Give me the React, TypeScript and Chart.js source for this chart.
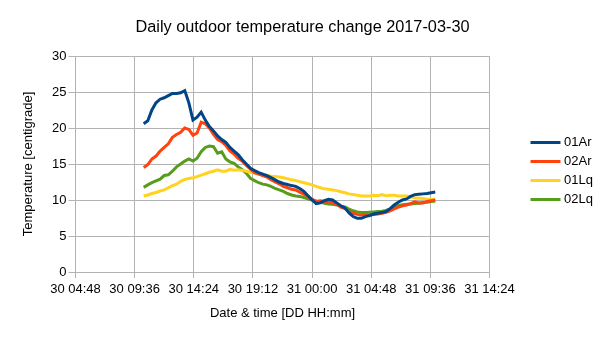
import React, { useEffect, useRef } from "react";
import { Chart, registerables } from "chart.js";

Chart.register(...registerables);

// Time axis (minutes since day 30, 00:00)
const axisMin = 288; // 30 04:48
const axisMax = 2304; // 31 14:24
const axisStep = 288; // 4h48m
const sampleStart = 620; // 30 10:20
const sampleStep = 20; // minutes between samples

const chartTitle = "Daily outdoor temperature change 2017-03-30";
const xTitle = "Date & time [DD HH:mm]";
const yTitle = "Temperature [centigrade]";

const seriesNames = ["01Ar", "02Ar", "01Lq", "02Lq"];
const seriesColors = ["#004586", "#ff420e", "#ffd320", "#579d1c"];

const ar01 = [
  20.6, 21.0, 22.5, 23.5, 24.0, 24.2, 24.5, 24.8, 24.8, 24.9, 25.2, 23.5, 21.1, 21.5, 22.2, 21.1,
  20.2, 19.6, 18.9, 18.4, 18.0, 17.3, 16.8, 16.3, 15.6, 15.0, 14.4, 14.1, 13.8, 13.6, 13.4, 13.1,
  12.8, 12.5, 12.3, 12.15, 12.0, 11.9, 11.6, 11.2, 10.6, 10.0, 9.5, 9.6, 9.9, 10.1, 10.0, 9.6,
  9.2, 8.9, 8.2, 7.7, 7.45, 7.45, 7.7, 7.85, 8.05, 8.15, 8.25, 8.4, 8.8, 9.3, 9.7, 10.0,
  10.15, 10.5, 10.75, 10.8, 10.85, 10.9, 11.0, 11.1,
];
const ar02 = [
  14.5, 14.9, 15.7, 16.1, 16.8, 17.3, 17.8, 18.7, 19.1, 19.4, 20.0, 19.8, 19.0, 19.3, 20.8, 20.6,
  20.0, 19.1, 18.4, 18.1, 17.6, 16.8, 16.4, 15.8, 15.4, 14.8, 14.3, 13.8, 13.6, 13.4, 13.2, 12.8,
  12.5, 12.25, 11.9, 11.7, 11.5, 11.4, 11.1, 10.8, 10.5, 10.1, 9.8, 9.9, 9.8, 9.8, 9.6, 9.4,
  9.0, 8.8, 8.4, 8.15, 8.0, 7.9, 7.9, 7.9, 8.0, 8.05, 8.15, 8.3, 8.5, 8.75, 9.0, 9.2,
  9.3, 9.5, 9.75, 9.6, 9.6, 9.8, 9.9, 10.0,
];
const lq01 = [
  10.55, 10.7, 10.9, 11.05, 11.25, 11.4, 11.7, 12.0, 12.2, 12.6, 12.85, 13.0, 13.1, 13.25, 13.45, 13.65,
  13.85, 14.0, 14.2, 14.0, 14.0, 14.25, 14.15, 14.2, 14.1, 14.0, 13.85, 13.75, 13.6, 13.55, 13.45, 13.3,
  13.25, 13.2, 13.1, 12.95, 12.8, 12.7, 12.55, 12.4, 12.25, 12.1, 11.9, 11.7, 11.55, 11.5, 11.4, 11.3,
  11.15, 11.0, 10.85, 10.75, 10.65, 10.55, 10.55, 10.55, 10.65, 10.6, 10.75, 10.6, 10.65, 10.65, 10.55, 10.55,
  10.55, 10.45, 10.3, 10.25, 10.2, 10.1, 10.1, 10.1,
];
const lq02 = [
  11.75, 12.1, 12.4, 12.65, 12.9, 13.4, 13.5, 14.0, 14.6, 15.0, 15.4, 15.7, 15.4, 15.8, 16.7, 17.3,
  17.5, 17.4, 16.5, 16.7, 15.7, 15.3, 15.1, 14.6, 14.2, 13.7, 13.0, 12.7, 12.4, 12.2, 12.1, 11.9,
  11.6, 11.4, 11.2, 10.9, 10.7, 10.55, 10.5, 10.35, 10.15, 10.0, 9.85, 9.7, 9.55, 9.45, 9.4, 9.3,
  9.15, 9.05, 8.75, 8.5, 8.35, 8.25, 8.25, 8.3, 8.35, 8.4, 8.45, 8.55, 8.75, 9.0, 9.2, 9.35,
  9.4, 9.45, 9.5, 9.55, 9.65, 9.7, 9.8, 9.85,
];

const seriesValues = [ar01, ar02, lq01, lq02];

const FONT = "'Liberation Sans', Arial, sans-serif";

function fmtTime(v: number): string {
  const day = 30 + Math.floor(v / 1440);
  const rem = v - Math.floor(v / 1440) * 1440;
  const hh = Math.floor(rem / 60);
  const mm = Math.round(rem - hh * 60);
  return `${day} ${String(hh).padStart(2, "0")}:${String(mm).padStart(2, "0")}`;
}

const decorPlugin = {
  id: "decor",
  afterDraw(chart: any) {
    const ctx = chart.ctx;
    ctx.save();
    // title, centred on the whole canvas
    ctx.font = `16.3px ${FONT}`;
    ctx.fillStyle = "#000";
    ctx.textAlign = "center";
    ctx.textBaseline = "alphabetic";
    ctx.fillText(chartTitle, chart.width / 2, 31.5);
    // legend
    ctx.font = `13px ${FONT}`;
    ctx.textBaseline = "middle";
    ctx.textAlign = "left";
    chart.data.datasets.forEach((ds: any, i: number) => {
      const y = 142.5 + i * 19;
      ctx.strokeStyle = ds.borderColor;
      ctx.lineWidth = 3;
      ctx.beginPath();
      ctx.moveTo(530.5, y);
      ctx.lineTo(560.5, y);
      ctx.stroke();
      ctx.fillStyle = "#000";
      ctx.fillText(ds.label, 564, y);
    });
    ctx.restore();
  },
};

export default function App() {
  const ref = useRef<HTMLCanvasElement | null>(null);

  useEffect(() => {
    if (!ref.current) return;
    const datasets = seriesNames.map((name, i) => ({
      label: name,
      data: seriesValues[i].map((v, k) => ({ x: sampleStart + k * sampleStep, y: v })),
      borderColor: seriesColors[i],
      backgroundColor: seriesColors[i],
      borderWidth: 3,
      pointRadius: 0,
      tension: 0,
      fill: false,
    }));
    const grid = "#b3b3b3";
    const chart = new Chart(ref.current, {
      type: "line",
      data: { datasets },
      plugins: [decorPlugin],
      options: {
        animation: false,
        responsive: false,
        devicePixelRatio: 1,
        layout: { padding: { left: 0, right: 115.5, top: 56, bottom: 0 } },
        plugins: {
          legend: { display: false },
          tooltip: { enabled: false },
          title: { display: false },
        },
        scales: {
          x: {
            type: "linear",
            min: axisMin,
            max: axisMax,
            afterFit: (s: any) => {
              s.height = 68;
            },
            afterBuildTicks: (s: any) => {
              const t = [];
              for (let v = axisMin; v <= axisMax; v += axisStep) t.push({ value: v });
              s.ticks = t;
            },
            ticks: {
              color: "#000",
              font: { family: FONT, size: 13 },
              padding: 4,
              maxRotation: 0,
              autoSkip: false,
              callback: (v: any) => fmtTime(Number(v)),
            },
            grid: { color: grid, tickLength: 6, tickColor: grid },
            border: { color: grid },
            title: {
              display: true,
              text: xTitle,
              color: "#000",
              font: { family: FONT, size: 13 },
              padding: { top: 0, bottom: 19 },
            },
          },
          y: {
            min: 0,
            max: 30,
            afterFit: (s: any) => {
              s.width = 75.5;
            },
            ticks: {
              stepSize: 5,
              color: "#000",
              font: { family: FONT, size: 13 },
              padding: 2,
            },
            grid: { color: grid, tickLength: 7, tickColor: grid },
            border: { color: grid },
            title: {
              display: true,
              text: yTitle,
              color: "#000",
              font: { family: FONT, size: 13 },
              padding: { top: 21, bottom: 0 },
            },
          },
        },
      },
    } as any);
    return () => chart.destroy();
  }, []);

  return (
    <div style={{ position: "fixed", left: 0, top: 0, width: 605, height: 340, background: "#fff" }}>
      <canvas ref={ref} width={605} height={340} />
    </div>
  );
}
